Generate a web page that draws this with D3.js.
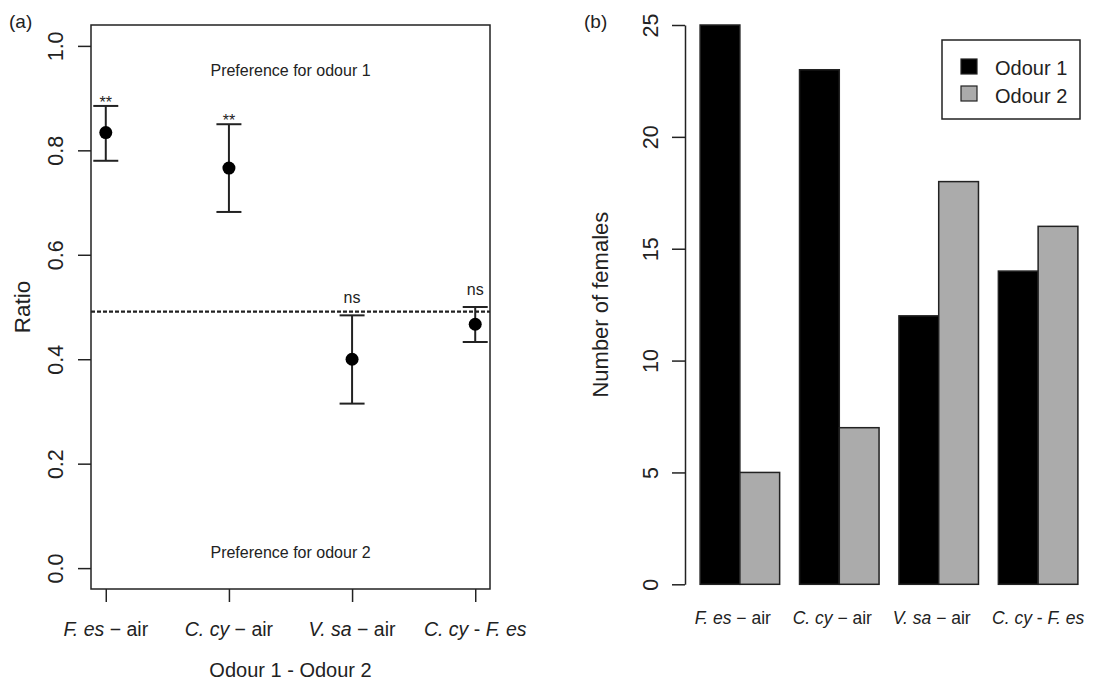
<!DOCTYPE html>
<html>
<head>
<meta charset="utf-8">
<script src="https://cdn.jsdelivr.net/npm/d3@7"></script>
<style>
  body { margin: 0; background: #fff; }
  svg text { font-family: "Liberation Sans", Arial, sans-serif; fill: #222; }
</style>
</head>
<body>
<svg id="chart" width="1119" height="681"></svg>
<script>
// comparison labels: italic odour 1, separator, odour 2 (italic if a species)
const odour1 = ["F. es", "C. cy", "V. sa", "C. cy"];
const separators = [" \u2212 ", " \u2212 ", " \u2212 ", " - "];
const odour2 = ["air", "air", "air", "F. es"];
const odour2Italic = [false, false, false, true];

// panel (a) ratio with error bars
const ratioMean = [0.834, 0.766, 0.400, 0.467];
const ratioLower = [0.780, 0.682, 0.315, 0.433];
const ratioUpper = [0.885, 0.850, 0.484, 0.500];
const signif = ["**", "**", "ns", "ns"];
const refLine = 0.491;
const ratioTicks = [0, 0.2, 0.4, 0.6, 0.8, 1.0];

// panel (b) number of females
const countOdour1 = [25, 23, 12, 14];
const countOdour2 = [5, 7, 18, 16];
const countTicks = [0, 5, 10, 15, 20, 25];
const legendLabels = ["Odour 1", "Odour 2"];
const barColors = ["#000000", "#ababab"];

const ink = "#222";
const svg = d3.select("#chart");

function tickLabel(sel, i) {
  sel.append("tspan").attr("font-style", "italic").text(odour1[i]);
  sel.append("tspan").text(separators[i]);
  sel.append("tspan").attr("font-style", odour2Italic[i] ? "italic" : "normal").text(odour2[i]);
}

function styleAxis(g) {
  g.selectAll("line, path").attr("stroke", ink).attr("stroke-width", 1.5);
}

// ---------- panel (a) ----------
const pa = { left: 91, right: 490, top: 25, bottom: 589 };
const xa = d3.scaleLinear().domain([0.88, 4.12]).range([pa.left, pa.right]);
const ya = d3.scaleLinear().domain([-0.04, 1.04]).range([pa.bottom, pa.top]);
const idx = d3.range(odour1.length);

const ga = svg.append("g");

ga.append("rect")
  .attr("x", pa.left).attr("y", pa.top)
  .attr("width", pa.right - pa.left).attr("height", pa.bottom - pa.top)
  .attr("fill", "none").attr("stroke", ink).attr("stroke-width", 1.5);

const yAxisA = ga.append("g")
  .attr("transform", `translate(${pa.left},0)`)
  .call(d3.axisLeft(ya).tickValues(ratioTicks).tickFormat(d3.format(".1f")).tickSize(13).tickSizeOuter(0));
yAxisA.select(".domain").remove();
yAxisA.selectAll("text")
  .attr("x", null).attr("dy", null)
  .attr("transform", "translate(-28,0) rotate(-90)")
  .attr("text-anchor", "middle")
  .attr("font-size", 21.5).attr("fill", ink);
styleAxis(yAxisA);

const xAxisA = ga.append("g")
  .attr("transform", `translate(0,${pa.bottom})`)
  .call(d3.axisBottom(xa).tickValues([1, 2, 3, 4]).tickFormat("").tickSize(13).tickSizeOuter(0));
xAxisA.select(".domain").remove();
styleAxis(xAxisA);

ga.selectAll("text.xlab")
  .data(idx)
  .join("text")
  .attr("class", "xlab")
  .attr("x", i => xa(i + 1))
  .attr("y", 636)
  .attr("text-anchor", "middle")
  .attr("font-size", 19.5)
  .each(function (i) { tickLabel(d3.select(this), i); });

ga.append("text")
  .attr("x", (pa.left + pa.right) / 2).attr("y", 677)
  .attr("text-anchor", "middle").attr("font-size", 20)
  .text("Odour 1 - Odour 2");

ga.append("text")
  .attr("transform", `translate(30,${(pa.top + pa.bottom) / 2}) rotate(-90)`)
  .attr("text-anchor", "middle").attr("font-size", 22.5)
  .text("Ratio");

ga.append("text").attr("x", 9).attr("y", 28).attr("font-size", 19).text("(a)");

ga.append("line")
  .attr("x1", pa.left).attr("x2", pa.right)
  .attr("y1", ya(refLine)).attr("y2", ya(refLine))
  .attr("stroke", ink).attr("stroke-width", 2.2).attr("stroke-dasharray", "4,2");

ga.append("text")
  .attr("x", (pa.left + pa.right) / 2).attr("y", 76)
  .attr("text-anchor", "middle").attr("font-size", 16)
  .text("Preference for odour 1");
ga.append("text")
  .attr("x", (pa.left + pa.right) / 2).attr("y", 558)
  .attr("text-anchor", "middle").attr("font-size", 16)
  .text("Preference for odour 2");

const cap = 12.5;
const bars = ga.selectAll("g.err").data(idx).join("g").attr("class", "err")
  .attr("stroke", ink).attr("stroke-width", 2);
bars.append("line")
  .attr("x1", i => xa(i + 1)).attr("x2", i => xa(i + 1))
  .attr("y1", i => ya(ratioLower[i])).attr("y2", i => ya(ratioUpper[i]));
bars.append("line")
  .attr("x1", i => xa(i + 1) - cap).attr("x2", i => xa(i + 1) + cap)
  .attr("y1", i => ya(ratioLower[i])).attr("y2", i => ya(ratioLower[i]));
bars.append("line")
  .attr("x1", i => xa(i + 1) - cap).attr("x2", i => xa(i + 1) + cap)
  .attr("y1", i => ya(ratioUpper[i])).attr("y2", i => ya(ratioUpper[i]));

ga.selectAll("circle.pt").data(idx).join("circle")
  .attr("class", "pt")
  .attr("cx", i => xa(i + 1)).attr("cy", i => ya(ratioMean[i]))
  .attr("r", 6.5).attr("fill", "#000");

ga.selectAll("text.sig").data(idx).join("text")
  .attr("class", "sig")
  .attr("x", i => xa(i + 1))
  .attr("y", i => ya(ratioUpper[i]) - (signif[i] === "ns" ? 12 : -2))
  .attr("text-anchor", "middle").attr("font-size", 16)
  .text(i => signif[i]);

// ---------- panel (b) ----------
const pb = { top: 25, bottom: 584.3 };
const xb = d3.scaleLinear().domain([0.12, 10.38]).range([685, 1093]);
const yb = d3.scaleLinear().domain([0, 25]).range([pb.bottom, pb.top]);
const groupStart = i => 0.5 + i * 2.5;

const gb = svg.append("g");

const yAxisB = gb.append("g")
  .attr("transform", `translate(${xb(0.12)},0)`)
  .call(d3.axisLeft(yb).tickValues(countTicks).tickSize(13).tickSizeOuter(0));
yAxisB.selectAll("text")
  .attr("x", null).attr("dy", null)
  .attr("transform", "translate(-27,0) rotate(-90)")
  .attr("text-anchor", "middle")
  .attr("font-size", 21.5).attr("fill", ink);
styleAxis(yAxisB);

const series = [countOdour1, countOdour2];
series.forEach((vals, s) => {
  gb.selectAll(`rect.s${s}`).data(idx).join("rect")
    .attr("class", `s${s}`)
    .attr("x", i => xb(groupStart(i) + s))
    .attr("width", i => xb(groupStart(i) + s + 1) - xb(groupStart(i) + s))
    .attr("y", i => yb(vals[i]))
    .attr("height", i => yb(0) - yb(vals[i]))
    .attr("fill", barColors[s])
    .attr("stroke", ink).attr("stroke-width", 1.5);
});

gb.selectAll("text.xlab").data(idx).join("text")
  .attr("class", "xlab")
  .attr("x", i => xb(groupStart(i) + 1) - (i < 3 ? 7 : 0))
  .attr("y", 624)
  .attr("text-anchor", "middle")
  .attr("font-size", 17.5)
  .each(function (i) { tickLabel(d3.select(this), i); });

gb.append("text")
  .attr("transform", `translate(608,${(pb.top + pb.bottom) / 2}) rotate(-90)`)
  .attr("text-anchor", "middle").attr("font-size", 22)
  .text("Number of females");

gb.append("text").attr("x", 584).attr("y", 28).attr("font-size", 19).text("(b)");

const legend = gb.append("g").attr("transform", "translate(942,40)");
legend.append("rect")
  .attr("width", 138).attr("height", 79)
  .attr("fill", "#fff").attr("stroke", ink).attr("stroke-width", 1.5);
legendLabels.forEach((lab, s) => {
  legend.append("rect")
    .attr("x", 19).attr("y", 19 + s * 27)
    .attr("width", 16).attr("height", 15)
    .attr("fill", barColors[s]).attr("stroke", ink).attr("stroke-width", 1.2);
  legend.append("text")
    .attr("x", 53).attr("y", 35 + s * 28)
    .attr("font-size", 20)
    .text(lab);
});
</script>
</body>
</html>
